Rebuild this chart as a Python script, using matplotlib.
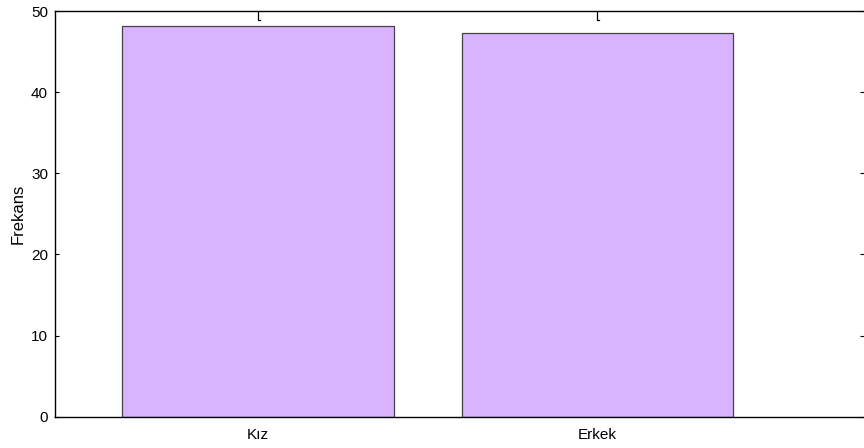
import matplotlib
matplotlib.use("Agg")
import matplotlib.pyplot as plt

categories = ["Kız", "Erkek"]
values = [48.2, 47.3]
yticks = [0, 10, 20, 30, 40, 50]

plt.rcParams['font.family'] = ['Liberation Sans', 'DejaVu Sans']

fig = plt.figure(figsize=(8.64, 4.48), dpi=100)
ax = fig.add_axes([0.0637, 0.0699, 0.9363, 0.9055])

x = [1, 2]
ax.bar(x, values, width=0.8, color="#d9b3ff", edgecolor="#444444", linewidth=0.9)

# small marks hanging from the top
for xi in x:
    ax.plot([xi, xi, xi + 0.006], [50, 48.9, 48.9], color="black", lw=0.9, clip_on=False)

ax.set_xlim(0.403, 2.785)
ax.set_ylim(0, 50)
ax.set_xticks(x)
ax.set_xticklabels(categories, fontsize=11)
ax.set_yticks(yticks)
ax.set_yticklabels([str(t) for t in yticks], fontsize=11)
ax.tick_params(axis="x", length=0, pad=8)
ax.tick_params(axis="y", direction="in", length=3, width=0.8, right=True, pad=5)
ax.spines["right"].set_visible(False)
for s in ["left", "bottom", "top"]:
    ax.spines[s].set_linewidth(1.0)
ax.set_ylabel("Frekans", fontsize=12)
ax.yaxis.set_label_coords(-0.036, 0.5)

fig.savefig("out.png", dpi=100)
